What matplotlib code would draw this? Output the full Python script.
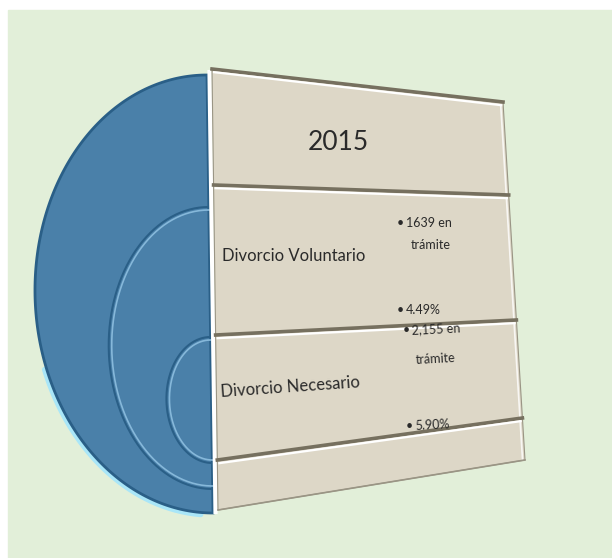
import numpy as np
import matplotlib
matplotlib.use('Agg')
import matplotlib.pyplot as plt
from matplotlib.patches import Polygon, Rectangle

# data
year = '2015'
categories = ['Divorcio Voluntario', 'Divorcio Necesario']
en_tramite = ['1639', '2,155']
porcentajes = ['4.49%', '5.90%']

# panel rows (y at left edge, y at right edge), pixel coords
row_left = [69, 185, 335, 460, 510]
row_right = [102, 195, 320, 418, 460]

BG = '#e2efd9'
PANEL = '#ddd7c7'
LINE = '#76705f'
BLUE = '#4a80a9'
BLUE_DARK = '#2a5f87'
BLUE_LIGHT = '#86b8da'
TXT = '#2a2a2a'
plt.rcParams['font.family'] = ['Lato', 'DejaVu Sans']


def lx(y):
    return 212 + (y - 69) * 6 / 441


def rx(y):
    return 503 + (y - 102) * 22 / 358


def half_ellipse(cy, hr, vr, t0=90, t1=270, n=200):
    t = np.radians(np.linspace(t0, t1, n))
    y = cy - vr * np.sin(t)
    x = 207 + (y - 75) * 6 / 438 + hr * np.cos(t)
    return x, y


fig = plt.figure(figsize=(6.12, 5.58), dpi=100)
ax = fig.add_axes([0, 0, 1, 1])
ax.set_xlim(0, 612)
ax.set_ylim(558, 0)
ax.axis('off')

ax.add_patch(Rectangle((8, 10), 604, 548, color=BG, zorder=0))

# blue half disk
x, y = half_ellipse(294, 175, 219)
# glow on lower left
gx, gy = half_ellipse(294, 177, 221, 200, 266)
ax.plot(gx, gy, color='#a9e6f8', lw=4, solid_capstyle='round', zorder=1)
ax.add_patch(Polygon(np.column_stack([x, y]), closed=True, facecolor=BLUE,
                     edgecolor=BLUE_DARK, lw=2, zorder=2))

# inner embossed arcs
for cy, hr, vr in [(348, 102, 141), (400, 45, 63)]:
    ax1, ay1 = half_ellipse(cy, hr, vr)
    ax.plot(ax1, ay1, color=BLUE_DARK, lw=1.5, zorder=3)
    ax2, ay2 = half_ellipse(cy, hr - 3, vr - 3)
    ax.plot(ax2, ay2, color=BLUE_LIGHT, lw=1.2, zorder=3)

# white gap between disk and panel
ax.plot([209.5, 215.5], [72, 512], color='white', lw=3, zorder=4)

# panel rows
for i in range(len(row_left) - 1):
    l0, l1 = row_left[i], row_left[i + 1]
    r0, r1 = row_right[i], row_right[i + 1]
    pts = [(lx(l0), l0), (rx(r0), r0), (rx(r1), r1), (lx(l1), l1)]
    ax.add_patch(Polygon(pts, closed=True, facecolor=PANEL,
                         edgecolor='#9a9585', lw=0.8, zorder=5))
    ax.plot([lx(l0), rx(r0)], [l0, r0], color=LINE, lw=2.6, zorder=6)
    ax.plot([lx(l0 + 3) + 2, rx(r0 + 3) - 2], [l0 + 3.2, r0 + 3.2],
            color='white', lw=1.6, zorder=6)
    ax.plot([rx(r0 + 3) - 2.5, rx(r1) - 2.5], [r0 + 3, r1 - 1],
            color='white', lw=1.2, alpha=0.8, zorder=6)
ax.plot([lx(row_left[-1]), rx(row_right[-1])], [row_left[-1], row_right[-1]],
        color='#9a9585', lw=1.2, zorder=6)

# texts
ax.text(338, 142, year, fontsize=19, color=TXT, ha='center', va='center', zorder=7)

cat_pos = [(222, 256, 0), (221, 392, 4)]
bullet_pos = [
    [(397, 223), (411, 245), (397, 310)],
    [(403, 330), (416, 360), (406, 426)],
]
for i, cat in enumerate(categories):
    cx, cy, rot = cat_pos[i]
    ax.text(cx, cy, cat, fontsize=12, color=TXT, ha='left', va='center',
            rotation=rot, rotation_mode='anchor', zorder=7)
    rot_b = 0 if i == 0 else 3
    (b1x, b1y), (t2x, t2y), (b2x, b2y) = bullet_pos[i]
    ax.text(b1x, b1y, '•', fontsize=9, color=TXT, ha='left', va='center', zorder=7)
    ax.text(b1x + 9, b1y, en_tramite[i] + ' en', fontsize=9, color=TXT,
            ha='left', va='center', rotation=rot_b, rotation_mode='anchor', zorder=7)
    ax.text(t2x, t2y, 'trámite', fontsize=9, color=TXT, ha='left', va='center',
            rotation=rot_b, rotation_mode='anchor', zorder=7)
    ax.text(b2x, b2y, '•', fontsize=9, color=TXT, ha='left', va='center', zorder=7)
    ax.text(b2x + 9, b2y, porcentajes[i], fontsize=9, color=TXT, ha='left',
            va='center', rotation=rot_b, rotation_mode='anchor', zorder=7)

fig.savefig('out.png', dpi=100, facecolor='white')
